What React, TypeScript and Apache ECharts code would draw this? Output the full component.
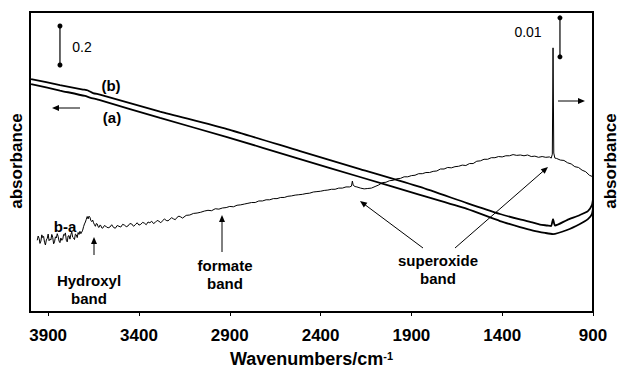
import { useEffect, useRef } from "react";
import * as echarts from "echarts";

// Axis tick positions (wavenumbers, cm-1)
const tickValues = [3900, 3400, 2900, 2400, 1900, 1400, 900];

// Spectrum (b): [wavenumber, absorbance] on the left axis
const spectrumB: [number, number][] = [
  [3994, 1.196], [3835, 1.165], [3708, 1.142], [3681, 1.137], [3653, 1.124],
  [3615, 1.116], [3284, 1.029], [2915, 0.939], [2513, 0.826], [2183, 0.734],
  [1853, 0.642], [1594, 0.559], [1412, 0.503], [1302, 0.475], [1230, 0.459],
  [1192, 0.449], [1153, 0.444], [1131, 0.441], [1120, 0.477], [1109, 0.444],
  [1043, 0.472], [972, 0.498], [928, 0.518], [906, 0.549], [900, 0.58],
];

// Spectrum (a): [wavenumber, absorbance] on the left axis
const spectrumA: [number, number][] = [
  [3994, 1.17], [3835, 1.137], [3697, 1.109], [3670, 1.101], [3615, 1.088],
  [3284, 0.996], [2915, 0.898], [2513, 0.785], [2183, 0.693], [1853, 0.601],
  [1594, 0.529], [1412, 0.467], [1302, 0.436], [1230, 0.418], [1164, 0.406],
  [1120, 0.4], [1043, 0.421], [972, 0.452], [928, 0.477], [906, 0.503],
  [900, 0.534],
];

// Difference spectrum b-a: [wavenumber, milli-absorbance] on the right axis
const differenceSpectrum: [number, number][] = [
  [3960, 18.4], [3955, 19.5], [3950, 18.9], [3945, 17.6], [3940, 18.2], [3935, 19.8],
  [3930, 19.1], [3925, 19.4], [3920, 17.9], [3915, 17.2], [3910, 18.5], [3905, 18.9],
  [3900, 20.0], [3895, 18.3], [3890, 18.7], [3885, 18.5], [3880, 19.9], [3875, 19.2],
  [3870, 17.5], [3865, 18.0], [3860, 19.3], [3855, 19.0], [3850, 20.1], [3845, 19.4],
  [3840, 18.2], [3835, 17.8], [3830, 19.0], [3825, 18.4], [3820, 18.6], [3815, 19.9],
  [3810, 19.7], [3805, 20.3], [3800, 18.4], [3795, 18.0], [3790, 19.5], [3785, 19.6],
  [3780, 18.7], [3775, 19.9], [3770, 20.5], [3765, 19.2], [3760, 19.0], [3755, 18.6],
  [3750, 20.0], [3745, 19.8], [3740, 19.1], [3735, 20.4], [3730, 19.9], [3725, 20.7],
  [3720, 20.1], [3715, 20.5], [3710, 21.0], [3705, 21.9], [3700, 22.6], [3695, 23.1],
  [3690, 23.8], [3685, 24.5], [3680, 23.9], [3675, 24.6], [3670, 24.3], [3665, 23.5],
  [3660, 23.2], [3655, 23.6], [3650, 22.9], [3645, 22.4], [3640, 22.0], [3635, 22.7],
  [3630, 22.6], [3625, 21.9], [3620, 21.7], [3615, 22.3], [3610, 22.2], [3605, 21.6],
  [3600, 21.5], [3590, 22.2], [3580, 21.9], [3570, 21.6], [3560, 21.8], [3550, 22.4],
  [3540, 21.7], [3530, 21.5], [3520, 22.2], [3510, 22.0], [3500, 21.8], [3490, 22.5],
  [3480, 22.3], [3470, 21.9], [3460, 22.1], [3450, 22.7], [3440, 22.6], [3430, 22.0],
  [3420, 22.4], [3410, 22.9], [3400, 22.3], [3390, 22.5], [3380, 23.0], [3370, 22.8],
  [3360, 22.4], [3350, 23.1], [3340, 22.9], [3330, 23.3], [3320, 22.7], [3310, 23.0],
  [3300, 23.5], [3290, 23.3], [3280, 22.9], [3270, 23.4], [3260, 23.9], [3250, 23.5],
  [3240, 23.4], [3230, 23.8], [3220, 24.2], [3210, 23.9], [3200, 23.7], [3190, 24.3],
  [3180, 24.6], [3170, 24.4], [3160, 24.1], [3140, 24.8], [3120, 24.9], [3100, 25.3],
  [3080, 25.4], [3060, 25.6], [3040, 25.9], [3020, 26.1], [3000, 26.0], [2980, 26.5],
  [2960, 26.4], [2940, 26.7], [2920, 26.8], [2900, 27.1], [2880, 27.0], [2860, 27.4],
  [2840, 27.5], [2820, 27.7], [2800, 27.9], [2780, 28.1], [2760, 28.1], [2740, 28.5],
  [2720, 28.5], [2700, 28.8], [2680, 28.8], [2660, 29.1], [2640, 29.1], [2620, 29.4],
  [2600, 29.4], [2580, 29.7], [2560, 29.8], [2540, 30.0], [2520, 30.1], [2500, 30.2],
  [2480, 30.4], [2460, 30.5], [2440, 30.8], [2420, 30.9], [2400, 31.0], [2380, 31.2],
  [2360, 31.3], [2340, 31.5], [2320, 31.5], [2300, 31.8], [2280, 31.8], [2260, 32.1],
  [2240, 32.1], [2230, 32.3], [2225, 33.6], [2220, 32.5], [2210, 32.2], [2200, 32.1],
  [2180, 31.8], [2160, 31.6], [2140, 31.7], [2120, 31.8], [2100, 32.2], [2080, 32.6],
  [2060, 33.2], [2040, 33.3], [2020, 33.7], [2000, 33.8], [1980, 34.2], [1960, 34.3],
  [1940, 34.7], [1920, 34.7], [1900, 35.0], [1880, 35.1], [1860, 35.5], [1840, 35.5],
  [1820, 35.8], [1800, 35.8], [1780, 36.1], [1760, 36.2], [1740, 36.7], [1720, 36.7],
  [1700, 37.1], [1680, 37.0], [1660, 37.3], [1640, 37.4], [1620, 37.7], [1600, 37.6],
  [1580, 38.1], [1560, 38.1], [1540, 38.7], [1520, 38.8], [1500, 39.2], [1480, 39.2],
  [1460, 39.6], [1440, 39.6], [1420, 39.9], [1400, 39.8], [1380, 40.1], [1360, 40.1],
  [1340, 40.4], [1320, 40.2], [1300, 40.3], [1280, 40.1], [1260, 40.3], [1240, 39.9],
  [1220, 40.0], [1200, 39.7], [1180, 39.9], [1160, 39.7], [1140, 39.8], [1130, 39.5],
  [1124, 40.5], [1120, 67.8], [1116, 40.8], [1110, 39.5], [1100, 39.4], [1080, 39.0],
  [1060, 38.9], [1040, 38.3], [1020, 38.0], [1000, 37.3], [980, 37.1], [960, 36.4],
  [940, 36.0], [920, 35.1], [900, 34.7],
];

// Scale bars: 0.2 absorbance (left axis) and 0.01 absorbance (right axis, milli-units)
const scaleBarAbs: [number, number][] = [[3835, 1.268], [3835, 1.468]];
const scaleBarDiff: [number, number][] = [[1082, 65.5], [1082, 75.5]];

const FONT = '"Liberation Sans", Arial, Helvetica, sans-serif';

function text(
  content: string,
  x: number,
  y: number,
  size = 15,
  weight = "bold",
  rotation = 0
) {
  return {
    type: "text",
    x,
    y,
    rotation,
    silent: true,
    style: {
      text: content,
      fill: "#000",
      font: `${weight} ${size}px ${FONT}`,
      align: "center",
      verticalAlign: "middle",
    },
  };
}

function arrow(x1: number, y1: number, x2: number, y2: number) {
  const ang = Math.atan2(y2 - y1, x2 - x1);
  const c = Math.cos(ang);
  const s = Math.sin(ang);
  const L = 7;
  const W = 3;
  return {
    type: "group",
    silent: true,
    children: [
      {
        type: "line",
        shape: { x1, y1, x2: x2 - L * 0.7 * c, y2: y2 - L * 0.7 * s },
        style: { stroke: "#000", lineWidth: 1 },
      },
      {
        type: "polygon",
        shape: {
          points: [
            [x2, y2],
            [x2 - L * c + W * s, y2 - L * s - W * c],
            [x2 - L * c - W * s, y2 - L * s + W * c],
          ],
        },
        style: { fill: "#000" },
      },
    ],
  };
}

export default function App() {
  const ref = useRef<HTMLDivElement>(null);

  useEffect(() => {
    const chart = echarts.init(ref.current!, null, { renderer: "svg" });
    const lineStyleMain = { color: "#000", width: 1.8 };

    chart.setOption({
      animation: false,
      backgroundColor: "#fff",
      grid: {
        left: 30,
        right: 28,
        top: 12,
        bottom: 66,
        show: true,
        borderColor: "#000",
        borderWidth: 2,
        backgroundColor: "transparent",
      },
      xAxis: {
        type: "value",
        inverse: true,
        min: 900,
        max: 4000,
        axisLine: { show: false },
        splitLine: { show: false },
        axisTick: {
          show: true,
          length: 4,
          customValues: tickValues,
          lineStyle: { color: "#000", width: 1 },
        },
        axisLabel: {
          customValues: tickValues,
          formatter: (v: number) => String(v),
          fontSize: 17,
          fontWeight: "bold",
          fontFamily: FONT,
          color: "#000",
          margin: 15,
        },
        name: "{t|Wavenumbers/cm}{s|-1}",
        nameLocation: "middle",
        nameGap: 38,
        nameTextStyle: {
          rich: {
            t: { fontSize: 18, fontWeight: "bold", fontFamily: FONT, color: "#000" },
            s: {
              fontSize: 11,
              fontWeight: "bold",
              fontFamily: FONT,
              color: "#000",
              verticalAlign: "top",
            },
          },
        },
      },
      yAxis: [
        { type: "value", min: 0, max: 1.54, show: false },
        { type: "value", min: 0, max: 77, show: false },
      ],
      series: [
        {
          type: "line",
          yAxisIndex: 0,
          data: spectrumB,
          showSymbol: false,
          smooth: 0.2,
          lineStyle: lineStyleMain,
          silent: true,
        },
        {
          type: "line",
          yAxisIndex: 0,
          data: spectrumA,
          showSymbol: false,
          smooth: 0.2,
          lineStyle: lineStyleMain,
          silent: true,
        },
        {
          type: "line",
          yAxisIndex: 1,
          data: differenceSpectrum,
          showSymbol: false,
          lineStyle: { color: "#000", width: 1 },
          silent: true,
        },
        {
          type: "line",
          yAxisIndex: 0,
          data: scaleBarAbs,
          symbol: "circle",
          symbolSize: 5,
          showSymbol: true,
          itemStyle: { color: "#000" },
          lineStyle: { color: "#000", width: 1.2 },
          silent: true,
        },
        {
          type: "line",
          yAxisIndex: 1,
          data: scaleBarDiff,
          symbol: "circle",
          symbolSize: 5,
          showSymbol: true,
          itemStyle: { color: "#000" },
          lineStyle: { color: "#333", width: 1.5 },
          silent: true,
        },
      ],
      graphic: [
        text("absorbance", 16, 161, 17, "bold", Math.PI / 2),
        text("absorbance", 610, 161, 17, "bold", Math.PI / 2),
        text("0.2", 82, 47, 14, "normal"),
        text("0.01", 528, 32, 14, "normal"),
        text("(b)", 111, 85),
        text("(a)", 112, 117),
        text("b-a", 65, 226),
        text("Hydroxyl", 89, 280),
        text("band", 89, 298),
        text("formate", 225, 265),
        text("band", 225, 283),
        text("superoxide", 438, 260),
        text("band", 438, 278),
        arrow(80, 108, 52, 108),
        arrow(558, 101, 585, 101),
        arrow(94, 255, 94, 237),
        arrow(222, 252, 222, 215),
        arrow(423, 248, 360, 201),
        arrow(455, 248, 548, 167),
      ],
    });

    return () => chart.dispose();
  }, []);

  return (
    <div
      ref={ref}
      style={{
        position: "fixed",
        left: 0,
        top: 0,
        width: 621,
        height: 378,
        background: "#fff",
      }}
    />
  );
}
